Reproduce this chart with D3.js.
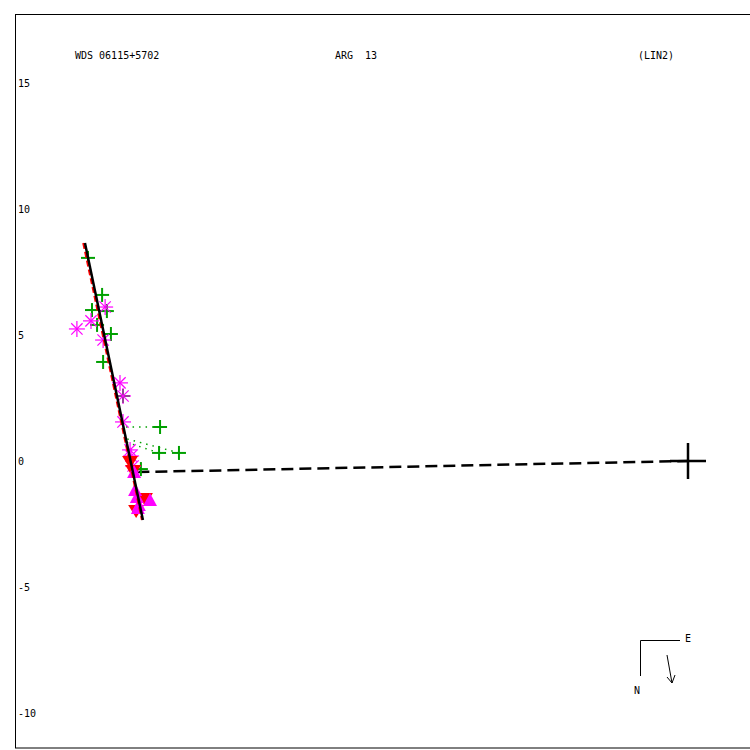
<!DOCTYPE html>
<html><head><meta charset="utf-8">
<script src="https://cdn.jsdelivr.net/npm/d3@7"></script>
<style>body{margin:0;background:#fff}svg{display:block}text{font-family:"DejaVu Sans Mono",monospace;font-size:10px;white-space:pre}</style>
</head><body><svg id="c" width="750" height="750"></svg>
<script>
// Header texts
const titles = ["WDS 06115+5702", "ARG  13", "(LIN2)"];
// Y tick labels
const yTicks = [15, 10, 5, 0, -5, -10];
// Green plus observations [x, y]
const plusObs = [[-23.81,8.06],[-23.25,6.59],[-23.65,5.99],[-23.06,5.95],[-23.45,5.40],[-22.90,5.04],[-23.21,3.93],[-22.42,2.58],[-20.95,1.35],[-20.99,0.32],[-20.20,0.32],[-21.71,-0.32]];
// O-C dotted segments for plus observations [x1,y1,x2,y2]
const ocLines = [[-20.95,1.35,-22.40,1.35],[-20.99,0.32,-22.30,0.75],[-20.20,0.32,-22.38,0.91]];
// Magenta asterisk observations
const starObs = [[-24.25,5.24],[-23.69,5.56],[-23.13,6.11],[-23.21,4.80],[-22.54,3.10],[-22.42,2.58],[-22.42,1.55],[-22.14,0.44],[-22.10,0.20],[-22.02,-0.20]];
// Red down-triangle observations
const redObs = [[-22.14,0.0],[-22.02,-0.36],[-21.55,-1.47],[-21.90,-1.94]];
// Magenta up-triangle observations
const triObs = [[-21.98,-0.44],[-21.94,-1.15],[-21.87,-1.43],[-21.79,-1.75],[-21.35,-1.55],[-21.83,-1.87]];
// Linear ephemeris line (black) and red previous solution
const fitLine = [[-23.93,8.65],[-21.63,-2.34]];
const redLine = [[-24.00,8.65],[-21.67,-2.34]];
// Dashed line from primary to closest approach
const dashLine = [[-21.85,-0.44],[0,0]];
const primary = [0,0];

const svg = d3.select("#c");
const x = d3.scaleLinear().domain([-10,0]).range([688-252,688]);
const y = d3.scaleLinear().domain([15,-10]).range([83,713]);

svg.append("rect").attr("x",15.5).attr("y",14.5).attr("width",750).attr("height",733.5)
  .attr("fill","none").attr("stroke","#000").attr("stroke-width",1);

[75,335,638].forEach((px,i)=>svg.append("text").attr("x",px).attr("y",59).attr("xml:space","preserve").text(titles[i]));
svg.selectAll(".yt").data(yTicks).join("text").attr("x",18).attr("y",d=>y(d)+4).text(d=>d);

const line = d3.line().x(d=>x(d[0])).y(d=>y(d[1]));

// O-C dotted lines
svg.selectAll(".oc").data(ocLines).join("line")
  .attr("x1",d=>x(d[0])).attr("y1",d=>y(d[1])).attr("x2",d=>x(d[2])).attr("y2",d=>y(d[3]))
  .attr("stroke","#00a000").attr("stroke-width",1.5).attr("stroke-dasharray","1.5,5");

// dashed line
svg.append("path").attr("d",line(dashLine)).attr("fill","none").attr("stroke","#000")
  .attr("stroke-width",2.5).attr("stroke-dasharray","12,6");

// green pluses
const gp = svg.selectAll(".gp").data(plusObs).join("g").attr("transform",d=>`translate(${x(d[0])},${y(d[1])})`);
gp.append("line").attr("x1",-7).attr("x2",7).attr("stroke","#00a000").attr("stroke-width",2);
gp.append("line").attr("y1",-7).attr("y2",7).attr("stroke","#00a000").attr("stroke-width",2);

// asterisks
const st = svg.selectAll(".st").data(starObs).join("g").attr("transform",d=>`translate(${x(d[0])},${y(d[1])})`);
[0,45,90,135].forEach(a=>{
  st.append("line").attr("x1",-8).attr("x2",8).attr("transform",`rotate(${a})`)
    .attr("stroke","#ff00ff").attr("stroke-width",1.2);
});

// red down triangles
svg.selectAll(".rt").data(redObs).join("path")
  .attr("transform",d=>`translate(${x(d[0])},${y(d[1])})`)
  .attr("d","M-8,-5L8,-5L0,8Z").attr("fill","#ff0000");

// magenta up triangles
svg.selectAll(".mt").data(triObs).join("path")
  .attr("transform",d=>`translate(${x(d[0])},${y(d[1])})`)
  .attr("d","M0,-7L7,6L-7,6Z").attr("fill","#ff00ff");

// fit lines
svg.append("path").attr("d",line(redLine)).attr("fill","none").attr("stroke","#ff0000")
  .attr("stroke-width",2).attr("stroke-dasharray","6,3");
svg.append("path").attr("d",line(fitLine)).attr("fill","none").attr("stroke","#000").attr("stroke-width",2.5);

// primary cross
const pc = svg.append("g").attr("transform",`translate(${x(primary[0])},${y(primary[1])})`);
pc.append("line").attr("x1",-18).attr("x2",18).attr("stroke","#000").attr("stroke-width",2.5);
pc.append("line").attr("y1",-18).attr("y2",18).attr("stroke","#000").attr("stroke-width",2.5);

// compass
const cp = svg.append("g");
cp.append("path").attr("d","M680,640.5H640.5V676").attr("fill","none").attr("stroke","#000").attr("stroke-width",1);
cp.append("text").attr("x",685).attr("y",642).text("E");
cp.append("text").attr("x",634).attr("y",694).text("N");
cp.append("path").attr("d","M667,655L672,683M667,677L672,683L675,675").attr("fill","none").attr("stroke","#000").attr("stroke-width",1);
</script></body></html>
